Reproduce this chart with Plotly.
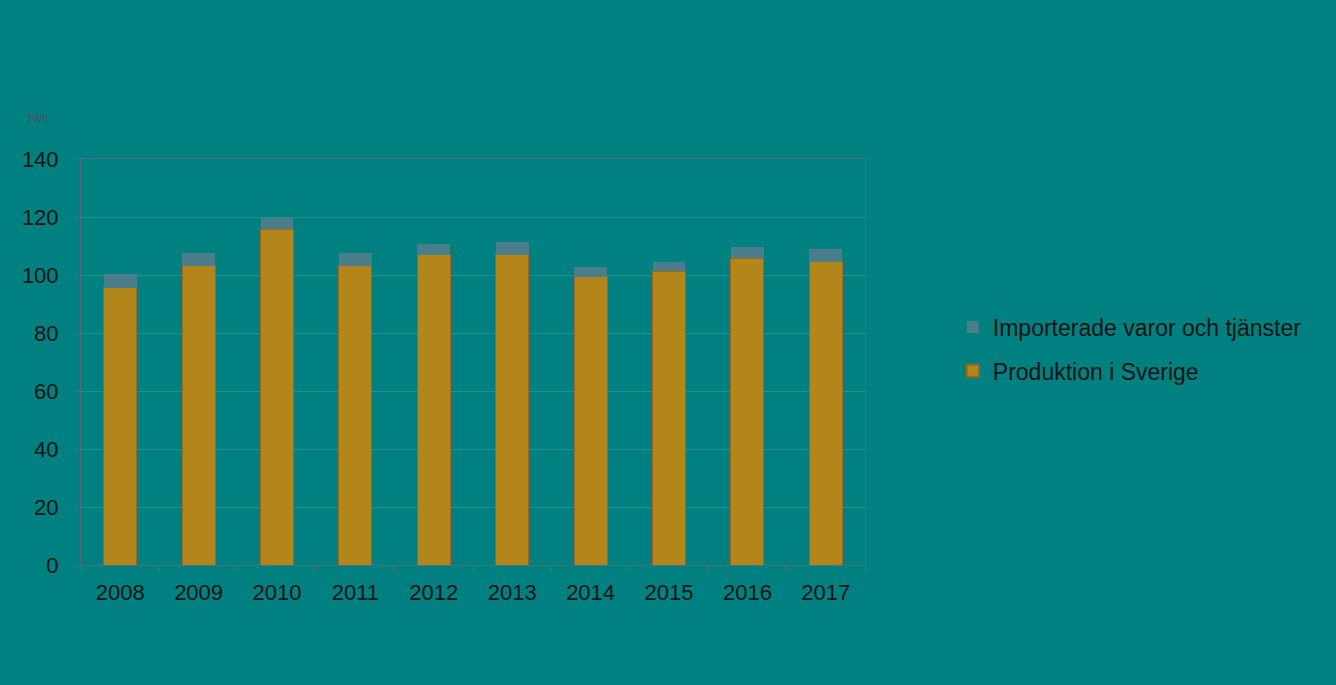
import plotly.graph_objects as go

years = ["2008", "2009", "2010", "2011", "2012", "2013", "2014", "2015", "2016", "2017"]
produktion = [95.6, 103.2, 115.8, 103.2, 107.0, 107.0, 99.4, 101.3, 105.7, 104.6]
importerade = [4.6, 4.5, 3.9, 4.5, 3.8, 4.4, 3.2, 3.2, 3.8, 4.3]
y_ticks = [0, 20, 40, 60, 80, 100, 120, 140]

bg = "#008080"
font = "Liberation Sans, Arial, sans-serif"

fig = go.Figure()
fig.add_trace(go.Bar(
    x=years, y=produktion, name="Produktion i Sverige",
    legendgroup="prod", legendrank=2,
    marker=dict(color="#B3861C", line=dict(color="#A0661E", width=1)),
))
fig.add_trace(go.Bar(
    x=years, y=importerade, name="Importerade varor och tjänster",
    legendgroup="imp", legendrank=1,
    marker=dict(color="#4A7E8A", line=dict(width=0)),
))

fig.update_layout(
    width=1336, height=685,
    paper_bgcolor=bg, plot_bgcolor=bg,
    barmode="stack", bargap=0.58,
    margin=dict(l=81, r=471, t=159, b=120),
    font=dict(family=font, color="#141414", size=22),
    legend=dict(
        x=1.112, y=0.532, xanchor="left", yanchor="middle",
        font=dict(size=23, color="#141414"),
        bgcolor="rgba(0,0,0,0)", traceorder="grouped",
        tracegroupgap=11, itemsizing="constant",
    ),
    annotations=[dict(
        text="TWh", xref="paper", yref="paper", x=-0.072, y=1.1,
        xanchor="left", yanchor="middle", showarrow=False,
        font=dict(size=10, color="#5a4a5e"),
    )],
)
fig.update_yaxes(
    range=[0, 140], tickvals=y_ticks,
    showgrid=True, gridcolor="#2b8e8e", gridwidth=1,
    showline=True, linecolor="#4d6f7d", linewidth=1, mirror=True,
    ticks="outside", ticklen=5, tickcolor="#4d6f7d",
    zeroline=False, ticklabelstandoff=12,
)
fig.update_xaxes(
    type="category", tickson="boundaries",
    showline=True, linecolor="#4d6f7d", linewidth=1, mirror=True,
    ticks="outside", ticklen=6, tickcolor="#4d6f7d",
    showgrid=False, ticklabelstandoff=8,
)

fig.write_html(
    "out.html",
    config={"displayModeBar": False},
    post_script="document.body.style.margin='0';",
)
